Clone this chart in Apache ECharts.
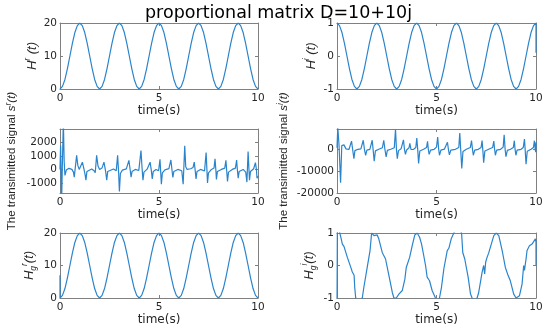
<!DOCTYPE html>
<html><head><meta charset="utf-8">
<script src="https://cdn.jsdelivr.net/npm/echarts@6/dist/echarts.min.js"></script>
<style>html,body{margin:0;padding:0;background:#fff}#c{width:550px;height:335px}</style>
</head><body><div id="c"></div><script>
// ---------------- data ----------------
const titleText = 'proportional matrix D=10+10j';
const xName = 'time(s)';
const xTicks = [0, 5, 10];

const tGrid = [
 0,0.125,0.25,0.375,0.5,0.625,0.75,0.875,
 1,1.125,1.25,1.375,1.5,1.625,1.75,1.875,
 2,2.125,2.25,2.375,2.5,2.625,2.75,2.875,
 3,3.125,3.25,3.375,3.5,3.625,3.75,3.875,
 4,4.125,4.25,4.375,4.5,4.625,4.75,4.875,
 5,5.125,5.25,5.375,5.5,5.625,5.75,5.875,
 6,6.125,6.25,6.375,6.5,6.625,6.75,6.875,
 7,7.125,7.25,7.375,7.5,7.625,7.75,7.875,
 8,8.125,8.25,8.375,8.5,8.625,8.75,8.875,
 9,9.125,9.25,9.375,9.5,9.625,9.75,9.875,
 10];

// H^r(t)
const hrValues = [
 0,0.8,2.9,6.2,10,13.8,17.1,19.2,20,19.2,17.1,13.8,10,6.2,2.9,0.8,
 0,0.8,2.9,6.2,10,13.8,17.1,19.2,20,19.2,17.1,13.8,10,6.2,2.9,0.8,
 0,0.8,2.9,6.2,10,13.8,17.1,19.2,20,19.2,17.1,13.8,10,6.2,2.9,0.8,
 0,0.8,2.9,6.2,10,13.8,17.1,19.2,20,19.2,17.1,13.8,10,6.2,2.9,0.8,
 0,0.8,2.9,6.2,10,13.8,17.1,19.2,20,19.2,17.1,13.8,10,6.2,2.9,0.8,
 0];
const hrTicks = [0, 10, 20];

// H^i(t)
const hiValues = [
 1,0.92,0.71,0.38,0,-0.38,-0.71,-0.92,-1,-0.92,-0.71,-0.38,0,0.38,0.71,0.92,
 1,0.92,0.71,0.38,0,-0.38,-0.71,-0.92,-1,-0.92,-0.71,-0.38,0,0.38,0.71,0.92,
 1,0.92,0.71,0.38,0,-0.38,-0.71,-0.92,-1,-0.92,-0.71,-0.38,0,0.38,0.71,0.92,
 1,0.92,0.71,0.38,0,-0.38,-0.71,-0.92,-1,-0.92,-0.71,-0.38,0,0.38,0.71,0.92,
 1,0.92,0.71,0.38,0,-0.38,-0.71,-0.92,-1,-0.92,-0.71,-0.38,0,0.38,0.71,0.92,
 1];
const hiTail = [[10, 0.1]];
const hiTicks = [-1, 0, 1];

// transmitted signal s^r(t)  [time, value]
const srData = [
 [0,0],[0.03,1800],[0.08,-2600],[0.12,400],[0.17,3600],[0.21,600],[0.25,-440],[0.32,-50],[0.45,80],[0.6,0],
 [0.68,-200],[0.72,-570],[0.84,1040],[0.9,300],[0.97,0],[1.05,80],[1.13,540],[1.2,100],[1.27,-400],[1.31,-800],
 [1.36,-150],[1.45,-50],[1.6,30],[1.72,-100],[1.78,-250],[1.85,1040],[1.92,250],[2.0,0],[2.12,100],[2.22,540],
 [2.3,-100],[2.36,-800],[2.41,-150],[2.5,-30],[2.7,30],[2.84,-100],[2.91,1040],[2.96,-200],[3.0,-1630],[3.05,-300],
 [3.15,-50],[3.35,40],[3.43,150],[3.48,670],[3.55,-100],[3.59,-570],[3.64,-150],[3.8,0],[3.98,-80],[4.03,-200],
 [4.09,1400],[4.14,200],[4.19,-800],[4.24,-200],[4.4,20],[4.5,100],[4.55,540],[4.61,-50],[4.66,-700],[4.71,-150],
 [4.85,0],[4.98,-100],[5.05,750],[5.12,-1100],[5.17,-250],[5.3,-30],[5.5,60],[5.6,700],[5.66,-100],[5.7,-600],
 [5.75,-150],[5.95,0],[6.15,-100],[6.22,-1100],[6.3,1750],[6.35,200],[6.42,0],[6.6,50],[6.72,150],[6.78,540],
 [6.83,-100],[6.87,-700],[6.92,-150],[7.1,0],[7.3,-120],[7.38,1250],[7.45,-1000],[7.5,-250],[7.65,0],[7.78,100],
 [7.83,790],[7.87,0],[7.9,-740],[7.95,-150],[8.15,0],[8.32,100],[8.38,670],[8.42,-100],[8.46,-900],[8.51,-200],
 [8.7,0],[8.86,100],[8.92,700],[8.96,-50],[9.0,-650],[9.05,-150],[9.25,0],[9.38,-200],[9.44,-940],[9.5,1330],
 [9.57,-800],[9.62,-150],[9.78,50],[9.87,500],[9.92,0],[9.95,-650],[10,-500]];
const srTicks = [-1000, 0, 1000, 2000];

// transmitted signal s^i(t)  [time, value]
const siData = [
 [0,500],[0.04,9800],[0.1,2000],[0.18,-15400],[0.24,1500],[0.28,2400],[0.35,1800],[0.45,0],[0.6,-300],[0.68,300],
 [0.73,3500],[0.79,-500],[0.85,-4400],[0.9,-800],[1.05,-200],[1.2,0],[1.27,800],[1.32,3900],[1.38,-300],[1.44,-2900],
 [1.5,-600],[1.65,-200],[1.72,600],[1.77,3900],[1.82,-800],[1.87,-5600],[1.93,-900],[2.1,-200],[2.28,500],[2.35,3900],
 [2.41,-400],[2.47,-3600],[2.53,-700],[2.7,-200],[2.88,500],[2.94,8900],[2.99,-500],[3.03,-4400],[3.09,-800],[3.22,0],
 [3.28,800],[3.34,4100],[3.39,-200],[3.44,-2500],[3.5,-500],[3.62,500],[3.66,2500],[3.72,-300],[3.85,-200],[3.96,600],
 [4.01,4900],[4.06,-800],[4.1,-6600],[4.16,-1000],[4.35,-200],[4.5,600],[4.55,3400],[4.59,-300],[4.63,-2500],[4.7,-600],
 [4.88,-200],[5.0,800],[5.06,5300],[5.11,-300],[5.15,-2900],[5.22,-600],[5.4,-100],[5.5,800],[5.55,3000],[5.6,-300],
 [5.65,-2700],[5.72,-600],[5.95,-200],[6.12,600],[6.17,7200],[6.22,-1000],[6.27,-8900],[6.33,-1200],[6.5,-200],[6.7,600],
 [6.76,3800],[6.81,-300],[6.85,-2900],[6.92,-600],[7.1,-200],[7.24,600],[7.29,3800],[7.33,-800],[7.37,-6300],[7.43,-1000],
 [7.62,-200],[7.82,600],[7.88,3500],[7.92,-300],[7.96,-2900],[8.02,-600],[8.22,-200],[8.35,800],[8.4,6400],[8.45,-400],
 [8.49,-3500],[8.56,-700],[8.72,-200],[8.86,600],[8.91,3700],[8.95,-300],[8.99,-2900],[9.05,-600],[9.25,-200],[9.36,600],
 [9.42,4400],[9.46,-1000],[9.5,-7000],[9.56,-1100],[9.75,-200],[9.87,600],[9.92,3700],[9.96,-300],[9.99,-1500],[10,3000]];
const siTicks = [-20000, -10000, 0];

// H_g^r(t)
const hgrHead = [[0, 7]];
const hgrValues = [
 0,0.8,2.9,6.2,10,13.8,17.1,19.2,20,19.2,17.1,13.8,10,6.2,2.9,0.8,
 0,0.8,2.9,6.2,10,13.8,17.1,19.2,20,19.2,17.1,13.8,10,6.2,2.9,0.8,
 0,0.8,2.9,6.2,10,13.8,17.1,19.2,20,19.2,17.1,13.8,10,6.2,2.9,0.8,
 0,0.8,2.9,6.2,10,13.8,17.1,19.2,20,19.2,17.1,13.8,10,6.2,2.9,0.8,
 0,0.8,2.9,6.2,10,13.8,17.1,19.2,20,19.2,17.1,13.8,10,6.2,2.9,0.8,
 0];
const hgrTicks = [0, 10, 20];

// H_g^i(t)  [time, value]
const hgiData = [
 [0,-1.3],[0.02,1.3],[0.1,1.1],[0.2,0.85],[0.27,0.66],[0.31,0.7],[0.35,0.59],[0.52,0.25],[0.69,-0.05],[0.77,-0.2],
 [0.82,-0.24],[0.86,-0.3],[0.89,-0.67],[0.94,-1],[1.1,-1.3],[1.27,-1],[1.35,-0.67],[1.52,-0.05],[1.66,0.46],[1.74,1],
 [1.8,1.03],[1.86,0.92],[1.95,0.96],[2.02,0.94],[2.1,0.82],[2.27,0.41],[2.33,0.33],[2.36,0.36],[2.44,0.2],[2.61,-0.31],
 [2.78,-0.83],[2.86,-1],[2.92,-1.05],[2.98,-1],[3.11,-0.88],[3.2,-0.85],[3.28,-0.77],[3.41,-0.42],[3.48,-0.06],[3.52,-0.1],
 [3.55,0],[3.65,0.25],[3.78,0.61],[3.91,0.94],[4.03,1],[4.15,0.87],[4.25,0.66],[4.36,0.3],[4.45,0.0],[4.53,-0.36],
 [4.6,-0.4],[4.65,-0.47],[4.78,-0.77],[4.95,-1],[5.05,-1.1],[5.15,-1],[5.25,-0.67],[5.37,-0.1],[5.54,0.46],[5.58,0.5],
 [5.62,0.53],[5.74,0.82],[5.87,1],[6.05,1.25],[6.26,1],[6.32,0.4],[6.37,0.3],[6.42,0.2],[6.59,-0.36],[6.71,-0.88],
 [6.79,-1],[6.9,-1.1],[7.04,-1],[7.12,-0.83],[7.29,-0.21],[7.37,0],[7.4,-0.15],[7.42,-0.26],[7.47,0.1],[7.54,0.25],
 [7.62,0.38],[7.71,0.41],[7.88,0.92],[8.0,1],[8.13,0.92],[8.3,0.46],[8.38,0.2],[8.46,-0.06],[8.6,-0.31],[8.71,-0.47],
 [8.88,-0.88],[9.0,-1],[9.17,-0.93],[9.3,-0.57],[9.38,0],[9.42,-0.15],[9.46,-0.2],[9.5,0.2],[9.55,0.46],[9.67,0.61],
 [9.8,0.66],[9.88,0.6],[9.97,0.82],[10,0.72],[10,0]];
const hgiTicks = [-1, 0, 1];

// ---------------- build ----------------
const zip = (ts, vs) => ts.map((t, k) => [t, vs[k]]);
const LINE = '#2a84cc', BOX = '#808080', TXT = '#262626';
const tickFont = 'DejaVu Sans';
const rich = {
  n: {fontSize: 11.5, fontFamily: 'Liberation Sans', color: TXT, lineHeight: 16},
  i: {fontSize: 11.5, fontFamily: 'Liberation Sans', fontStyle: 'italic', color: TXT, lineHeight: 16},
  I: {fontSize: 13, fontFamily: 'Liberation Sans', fontStyle: 'italic', color: TXT, lineHeight: 18},
  sup: {fontSize: 8.5, fontFamily: 'Liberation Sans', fontStyle: 'italic', color: TXT, verticalAlign: 'top', lineHeight: 10},
  sub: {fontSize: 8.5, fontFamily: 'Liberation Sans', fontStyle: 'italic', color: TXT, verticalAlign: 'bottom', lineHeight: 10}
};

const panels = [
  {pos: {left: 60, top: 23, width: 198, height: 66}, min: 0, max: 20, ticks: hrTicks,
   name: '{I|H}{sup|r}{I| (t)}', gap: 19, data: zip(tGrid, hrValues)},
  {pos: {left: 337, top: 23, width: 199, height: 66}, min: -1, max: 1, ticks: hiTicks,
   name: '{I|H}{sup|i}{I| (t)}', gap: 17, data: zip(tGrid, hiValues).concat(hiTail)},
  {pos: {left: 60, top: 129, width: 198, height: 64}, min: -1750, max: 3000, ticks: srTicks,
   name: '{n|The transimitted signal }{i|s}{sup|r}{i|(t)}', gap: 40, data: srData},
  {pos: {left: 337, top: 129, width: 199, height: 64}, min: -20000, max: 9000, ticks: siTicks,
   name: '{n|The transimitted signal }{i|s}{sup|i}{i|(t)}', gap: 45, data: siData},
  {pos: {left: 60, top: 233, width: 198, height: 65}, min: 0, max: 20, ticks: hgrTicks,
   name: '{I|H}{sub|g}{sup|r}{I|(t)}', gap: 22, data: hgrHead.concat(zip(tGrid, hgrValues))},
  {pos: {left: 337, top: 233, width: 199, height: 65}, min: -1, max: 1, ticks: hgiTicks,
   name: '{I|H}{sub|g}{sup|i}{I|(t)}', gap: 19, data: hgiData}
];

const option = {
  animation: false,
  backgroundColor: '#fff',
  title: {text: titleText, left: 145, top: 4, padding: 0,
    textStyle: {fontFamily: 'DejaVu Sans', fontSize: 17.5, fontWeight: 'normal', color: '#000'}},
  grid: [], xAxis: [], yAxis: [], series: []
};

panels.forEach((p, i) => {
  option.grid.push(Object.assign({containLabel: false}, p.pos));
  const axLine = {show: true, onZero: false, lineStyle: {color: BOX, width: 1}};
  const tick = {show: true, inside: true, length: 3, lineStyle: {color: BOX}};
  // bottom x
  option.xAxis.push({type: 'value', gridIndex: i, position: 'bottom', min: 0, max: 10,
    axisLine: axLine, splitLine: {show: false},
    axisTick: Object.assign({customValues: xTicks}, tick),
    axisLabel: {customValues: xTicks, margin: 4, fontFamily: tickFont, fontSize: 10.5, color: TXT},
    name: xName, nameLocation: 'middle', nameGap: 16,
    nameTextStyle: {fontFamily: tickFont, fontSize: 12, color: TXT}});
  // top mirror x
  option.xAxis.push({type: 'value', gridIndex: i, position: 'top', min: 0, max: 10,
    axisLine: axLine, splitLine: {show: false},
    axisTick: Object.assign({customValues: xTicks}, tick), axisLabel: {show: false}});
  // left y
  option.yAxis.push({type: 'value', gridIndex: i, position: 'left', min: p.min, max: p.max,
    axisLine: axLine, splitLine: {show: false},
    axisTick: Object.assign({customValues: p.ticks}, tick),
    axisLabel: {customValues: p.ticks, margin: 3, fontFamily: tickFont, fontSize: 10.5, color: TXT,
      formatter: v => String(v)},
    name: p.name, nameLocation: 'middle', nameGap: p.gap, nameRotate: 90,
    nameTextStyle: {rich: rich}});
  // right mirror y
  option.yAxis.push({type: 'value', gridIndex: i, position: 'right', min: p.min, max: p.max,
    axisLine: axLine, splitLine: {show: false},
    axisTick: Object.assign({customValues: p.ticks}, tick), axisLabel: {show: false}});
  option.series.push({type: 'line', xAxisIndex: 2 * i, yAxisIndex: 2 * i, data: p.data,
    showSymbol: false, symbol: 'none', clip: true,
    lineStyle: {color: LINE, width: 1.2}, itemStyle: {color: LINE}});
});

const chart = echarts.init(document.getElementById('c'), null, {renderer: 'canvas'});
chart.setOption(option);
</script></body></html>
